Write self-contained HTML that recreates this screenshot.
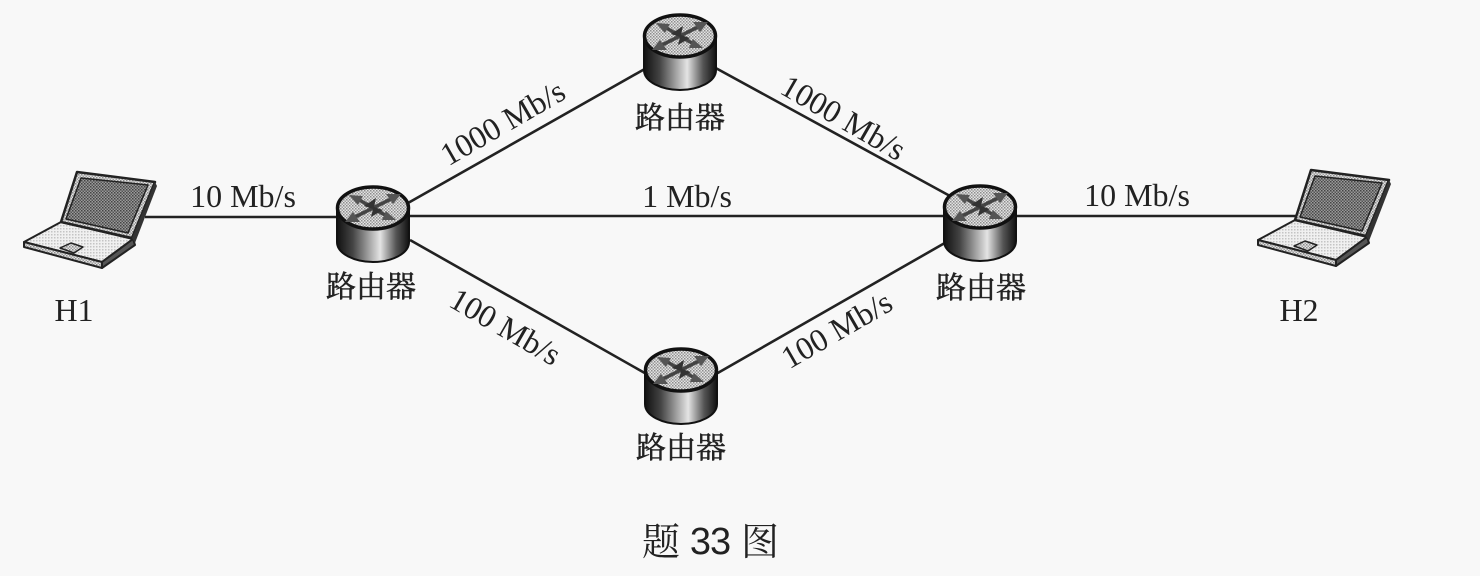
<!DOCTYPE html>
<html><head><meta charset="utf-8"><style>
html,body{margin:0;padding:0;background:#f8f8f8}
svg{display:block}
text{font-family:"Liberation Serif","Noto Serif CJK SC",serif;fill:#222}
.c{stroke:#222;stroke-width:.5px}
</style></head><body>
<svg width="1480" height="576" viewBox="0 0 1480 576" xmlns="http://www.w3.org/2000/svg">
<defs>
<pattern id="dark" width="3" height="3" patternUnits="userSpaceOnUse"><rect width="3" height="3" fill="#9a9a9a"/><rect width="1.5" height="1.5" fill="#444"/><rect x="1.5" y="1.5" width="1.5" height="1.5" fill="#555"/></pattern>
<pattern id="mid" width="3" height="3" patternUnits="userSpaceOnUse"><rect width="3" height="3" fill="#e4e4e4"/><rect width="1.5" height="1.5" fill="#8c8c8c"/><rect x="1.5" y="1.5" width="1.5" height="1.5" fill="#a0a0a0"/></pattern>
<pattern id="light" width="3" height="3" patternUnits="userSpaceOnUse"><rect width="3" height="3" fill="#f0f0f0"/><rect width="1.5" height="1.5" fill="#c4c4c4"/></pattern>
<linearGradient id="cyl" x1="0" x2="1" y1="0" y2="0"><stop offset="0" stop-color="#111"/><stop offset=".22" stop-color="#444"/><stop offset=".6" stop-color="#e4e4e4"/><stop offset=".82" stop-color="#555"/><stop offset="1" stop-color="#111"/></linearGradient>
<g id="router">
<path d="M-36 0V34C-36 46-18 54 0 54S36 46 36 34V0Z" fill="url(#cyl)" stroke="#111" stroke-width="2"/>
<ellipse cx="0" cy="0" rx="35.5" ry="21" fill="url(#mid)" stroke="#111" stroke-width="3.5"/>
<g stroke="#444" stroke-width="3.5" fill="none"><path d="M-24 12L24 -12M-17 -10L17 10"/></g>
<path d="M28 -14L13 -14L20 -4ZM-28 14L-13 14L-20 4ZM-24 -13L-10 -12L-15 -3ZM23 12L9 12L13 3Z" fill="#555"/>
<path d="M-9 -2L3 -10L1 -1L10 2L-2 9L0 1Z" fill="#333"/>
</g>
<g id="laptop" stroke-linejoin="round">
<path d="M24 242L61 222L133 239L102 262Z" fill="url(#light)" stroke="#222" stroke-width="2"/>
<path d="M24 242L102 262L102 268L24 247Z" fill="url(#mid)" stroke="#222" stroke-width="2"/>
<path d="M102 262L133 239L135 245L102 268Z" fill="#555" stroke="#222" stroke-width="2"/>
<path d="M77 172L155 182L132 238L61 222Z" fill="url(#mid)" stroke="#222" stroke-width="2.5"/>
<path d="M155 182L157 186L135 243L132 238Z" fill="#333"/>
<path d="M81 178L148 185L128 233L66 219Z" fill="url(#dark)" stroke="#222" stroke-width="1.5"/>
<path d="M60 248L71 243L83 247L74 253Z" fill="url(#mid)" stroke="#222" stroke-width="1.5"/>
</g>
</defs>
<g stroke="#222" stroke-width="2.6" fill="none">
<path d="M145 217H345M400 216H960M1010 216H1300"/>
<path d="M408 203L650 66M410 240L650 376M712 66L950 196M716 374L950 240"/>
</g>
<use href="#laptop"/>
<use href="#laptop" transform="translate(1234,-2)"/>
<use href="#router" x="373" y="208"/>
<use href="#router" x="680" y="36"/>
<use href="#router" x="681" y="370"/>
<use href="#router" x="980" y="207"/>
<g font-size="32">
<text x="243" y="207" text-anchor="middle">10 Mb/s</text>
<text x="687" y="207" text-anchor="middle">1 Mb/s</text>
<text x="1137" y="206" text-anchor="middle">10 Mb/s</text>
<text x="74" y="321" text-anchor="middle">H1</text>
<text x="1299" y="321" text-anchor="middle">H2</text>
<text transform="translate(508,132) rotate(-30)" text-anchor="middle">1000 Mb/s</text>
<text transform="translate(838,127) rotate(30)" text-anchor="middle">1000 Mb/s</text>
<text transform="translate(500,336) rotate(30)" text-anchor="middle">100 Mb/s</text>
<text transform="translate(842,339) rotate(-30)" text-anchor="middle">100 Mb/s</text>
</g>
<g font-size="30" class="c">
<text x="371" y="297" text-anchor="middle">路由器</text>
<text x="680" y="128" text-anchor="middle">路由器</text>
<text x="681" y="458" text-anchor="middle">路由器</text>
<text x="981" y="298" text-anchor="middle">路由器</text>
</g>
<text x="661" y="555" text-anchor="middle" font-size="38">题</text>
<text x="710" y="554" text-anchor="middle" font-size="38" style="font-family:'Liberation Sans',sans-serif;letter-spacing:-1px">33</text>
<text x="760" y="555" text-anchor="middle" font-size="38">图</text>
</svg>
</body></html>
